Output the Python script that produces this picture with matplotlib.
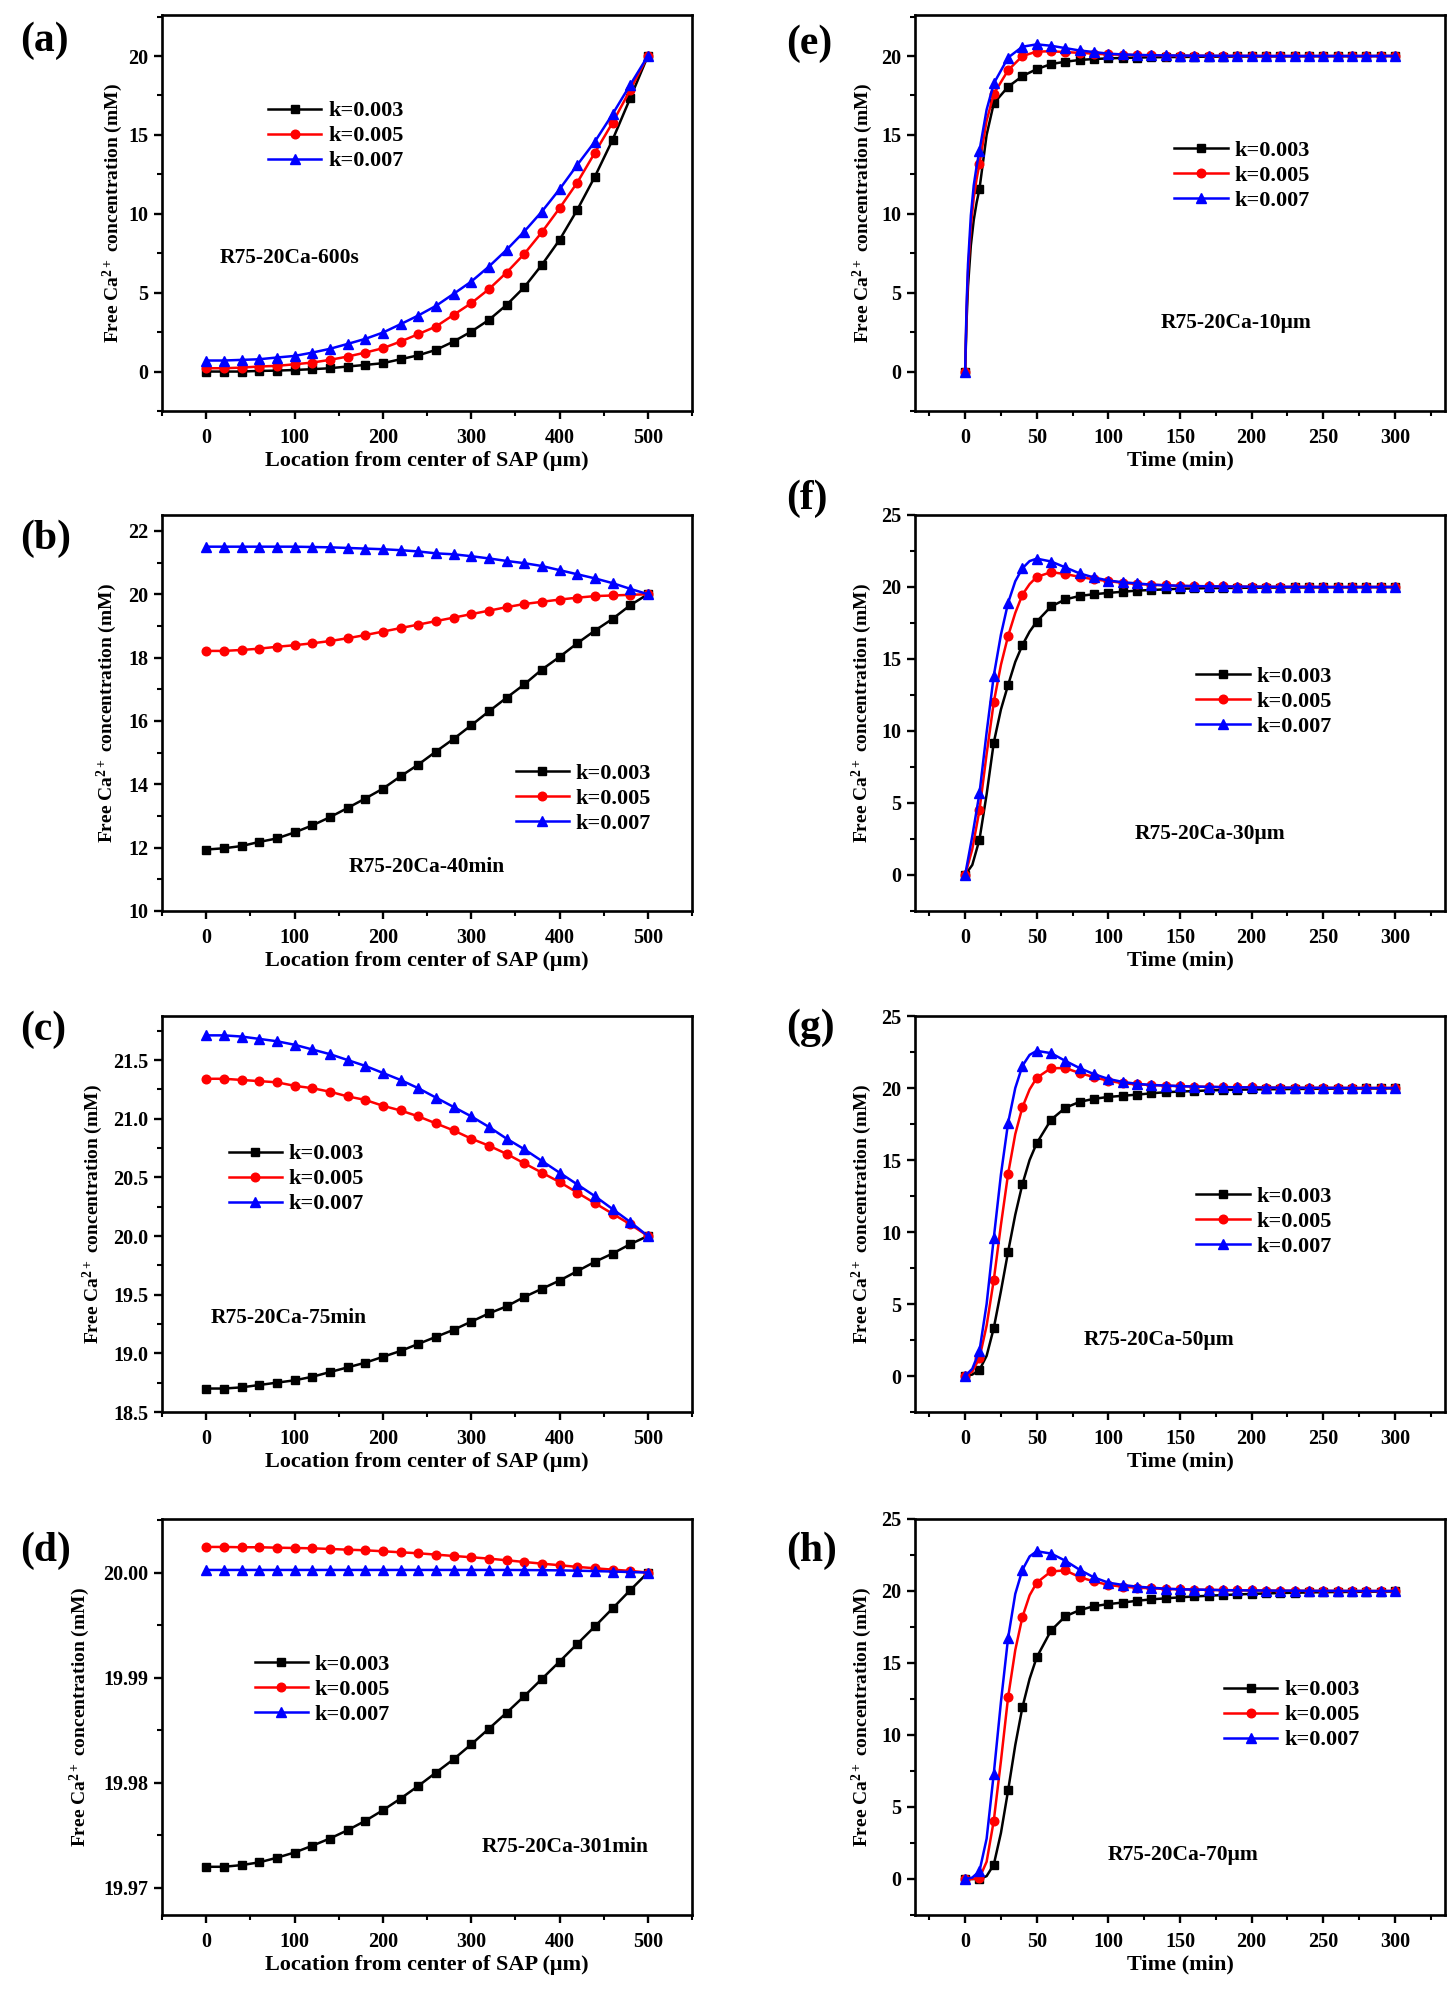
import matplotlib
matplotlib.use("Agg")
import matplotlib.pyplot as plt
from matplotlib.ticker import MultipleLocator, FormatStrFormatter

plt.rcParams["font.family"] = ["Liberation Serif", "DejaVu Serif"]
plt.rcParams["font.weight"] = "bold"
plt.rcParams["mathtext.fontset"] = "custom"
plt.rcParams["mathtext.rm"] = "Liberation Serif:bold"
plt.rcParams["mathtext.it"] = "Liberation Serif:bold"
plt.rcParams["mathtext.bf"] = "Liberation Serif:bold"
plt.rcParams["axes.linewidth"] = 1.9

# ── series styling ────────────────────────────────────────────────────────────
K_LABELS = ["k=0.003", "k=0.005", "k=0.007"]
K_COLORS = ["#000000", "#FF0000", "#0000FF"]
K_MARKERS = ["s", "o", "^"]

YLABEL = "Free Ca$^{2+}$ concentration (mM)"
XLABEL_LOC = "Location from center of SAP (μm)"
XLABEL_TIME = "Time (min)"

# ── spatial profiles (a)-(d): location from SAP centre, μm ────────────────────
location = list(range(0, 520, 20))

a_k003 = [0.0, 0.0, 0.0, 0.04, 0.06, 0.1, 0.15, 0.21, 0.32, 0.42, 0.53, 0.78, 1.03,
          1.37, 1.9, 2.53, 3.27, 4.22, 5.34, 6.76, 8.34, 10.24, 12.35, 14.68, 17.32, 20.0]
a_k005 = [0.21, 0.21, 0.25, 0.32, 0.36, 0.46, 0.57, 0.74, 0.95, 1.2, 1.48, 1.9, 2.37,
          2.85, 3.59, 4.33, 5.22, 6.27, 7.45, 8.83, 10.35, 11.97, 13.87, 15.77, 17.85, 20.0]
a_k007 = [0.7, 0.7, 0.74, 0.78, 0.89, 0.99, 1.2, 1.44, 1.75, 2.07, 2.47, 3.0, 3.55,
          4.16, 4.92, 5.7, 6.65, 7.71, 8.87, 10.14, 11.55, 13.09, 14.57, 16.31, 18.17, 20.0]

b_k003 = [11.94, 11.98, 12.05, 12.18, 12.29, 12.48, 12.7, 12.96, 13.25, 13.55, 13.86, 14.25, 14.62,
          15.03, 15.43, 15.86, 16.3, 16.73, 17.15, 17.62, 18.02, 18.45, 18.85, 19.22, 19.65, 20.0]
b_k005 = [18.21, 18.21, 18.24, 18.28, 18.34, 18.39, 18.45, 18.52, 18.61, 18.71, 18.82, 18.93, 19.04,
          19.15, 19.26, 19.37, 19.48, 19.59, 19.69, 19.76, 19.83, 19.89, 19.94, 19.96, 19.98, 20.0]
b_k007 = [21.5, 21.5, 21.5, 21.5, 21.5, 21.5, 21.49, 21.48, 21.46, 21.44, 21.42, 21.39, 21.35,
          21.29, 21.26, 21.2, 21.13, 21.05, 20.98, 20.89, 20.76, 20.63, 20.5, 20.35, 20.17, 20.0]

c_k003 = [18.7, 18.7, 18.71, 18.73, 18.75, 18.77, 18.8, 18.84, 18.88, 18.92, 18.97, 19.02, 19.08,
          19.14, 19.2, 19.27, 19.34, 19.4, 19.48, 19.55, 19.62, 19.7, 19.78, 19.85, 19.93, 20.0]
c_k005 = [21.34, 21.34, 21.33, 21.32, 21.31, 21.28, 21.26, 21.23, 21.19, 21.16, 21.11, 21.07, 21.02,
          20.96, 20.9, 20.83, 20.77, 20.7, 20.62, 20.54, 20.46, 20.37, 20.28, 20.19, 20.1, 20.0]
c_k007 = [21.71, 21.71, 21.7, 21.68, 21.66, 21.63, 21.59, 21.55, 21.5, 21.45, 21.39, 21.33, 21.26,
          21.18, 21.1, 21.02, 20.93, 20.83, 20.74, 20.64, 20.54, 20.44, 20.34, 20.23, 20.12, 20.0]

d_k003 = [19.97199, 19.97199, 19.97215, 19.97241, 19.97285, 19.97335, 19.97399, 19.97468, 19.97547,
          19.97636, 19.97737, 19.97848, 19.97968, 19.98095, 19.98222, 19.98364, 19.98513, 19.98665,
          19.98823, 19.98987, 19.99152, 19.9932, 19.99487, 19.99658, 19.99832, 20.0]
d_k005 = [20.00244, 20.00244, 20.00241, 20.00241, 20.00237, 20.00234, 20.00231, 20.00225, 20.00218,
          20.00212, 20.00203, 20.00193, 20.00184, 20.00171, 20.00158, 20.00146, 20.00133, 20.00117,
          20.00101, 20.00085, 20.0007, 20.00054, 20.00041, 20.00028, 20.00016, 20.0]
d_k007 = [20.00025, 20.00025, 20.00025, 20.00025, 20.00025, 20.00025, 20.00025, 20.00025, 20.00025,
          20.00025, 20.00025, 20.00025, 20.00025, 20.00025, 20.00025, 20.00025, 20.00025, 20.00025,
          20.00024, 20.00023, 20.00021, 20.00018, 20.00014, 20.0001, 20.00005, 20.0]

# ── time histories (e)-(h): minutes; markers shown every 10 min ───────────────
time_e = [0, 1, 2, 4, 6, 8, 10, 15] + list(range(20, 310, 10))
time_fgh = [0, 5, 10, 15, 20, 25, 30, 35, 40, 45, 50] + list(range(60, 310, 10))

e_k003 = [0.0, 3.2, 5.4, 8.0, 9.6, 10.7, 11.57, 15.0,
          17.0, 18.05, 18.73, 19.17, 19.49, 19.64, 19.75, 19.81, 19.85, 19.88, 19.9, 19.92, 19.93,
          19.94, 19.95, 19.96, 19.96, 19.97, 19.97, 19.98, 19.98, 19.98, 19.99, 19.99, 19.99, 19.99,
          19.99, 20.0, 20.0]
e_k005 = [0.0, 3.8, 6.3, 9.2, 11.0, 12.2, 13.16, 15.9,
          17.6, 19.1, 20.0, 20.28, 20.3, 20.25, 20.2, 20.15, 20.1, 20.08, 20.06, 20.04, 20.03,
          20.02, 20.02, 20.01, 20.01, 20.01, 20.01, 20.0, 20.0, 20.0, 20.0, 20.0, 20.0, 20.0,
          20.0, 20.0, 20.0]
e_k007 = [0.0, 4.2, 6.8, 9.9, 11.8, 13.0, 14.0, 16.6,
          18.26, 19.9, 20.59, 20.74, 20.65, 20.5, 20.35, 20.25, 20.15, 20.1, 20.07, 20.05, 20.04,
          20.03, 20.02, 20.02, 20.01, 20.01, 20.01, 20.0, 20.0, 20.0, 20.0, 20.0, 20.0, 20.0,
          20.0, 20.0, 20.0]

f_k003 = [0.0, 0.7, 2.46, 5.6, 9.2, 11.5, 13.2, 14.8, 15.97, 16.9, 17.6,
          18.65, 19.14, 19.38, 19.5, 19.59, 19.67, 19.75, 19.79, 19.84, 19.88, 19.9, 19.92, 19.93,
          19.94, 19.95, 19.96, 19.96, 19.97, 19.97, 19.98, 19.98, 19.98, 19.99, 19.99, 19.99]
f_k005 = [0.0, 1.8, 4.5, 8.4, 12.0, 14.6, 16.6, 18.2, 19.47, 20.2, 20.7,
          21.03, 20.9, 20.7, 20.53, 20.41, 20.29, 20.2, 20.16, 20.12, 20.08, 20.06, 20.05, 20.04,
          20.03, 20.02, 20.02, 20.01, 20.01, 20.01, 20.0, 20.0, 20.0, 20.0, 20.0, 20.0]
f_k007 = [0.0, 2.7, 5.67, 9.9, 13.84, 16.7, 18.9, 20.4, 21.3, 21.8, 21.97,
          21.77, 21.36, 20.94, 20.66, 20.45, 20.33, 20.25, 20.16, 20.12, 20.08, 20.06, 20.05, 20.04,
          20.03, 20.02, 20.02, 20.01, 20.01, 20.01, 20.0, 20.0, 20.0, 20.0, 20.0, 20.0]

g_k003 = [0.0, 0.1, 0.42, 1.4, 3.33, 5.9, 8.63, 11.2, 13.33, 15.0, 16.17,
          17.8, 18.63, 19.04, 19.25, 19.38, 19.46, 19.54, 19.63, 19.71, 19.75, 19.79, 19.83, 19.86,
          19.88, 19.9, 19.91, 19.92, 19.93, 19.94, 19.95, 19.96, 19.96, 19.97, 19.97, 19.98]
g_k005 = [0.0, 0.3, 1.25, 3.5, 6.67, 10.5, 14.04, 16.8, 18.67, 19.9, 20.71,
          21.38, 21.38, 21.04, 20.75, 20.5, 20.33, 20.25, 20.21, 20.17, 20.13, 20.1, 20.08, 20.06,
          20.05, 20.04, 20.03, 20.02, 20.02, 20.01, 20.01, 20.01, 20.0, 20.0, 20.0, 20.0]
g_k007 = [0.0, 0.5, 1.75, 5.0, 9.58, 14.0, 17.58, 20.0, 21.54, 22.3, 22.58,
          22.42, 21.88, 21.38, 20.96, 20.63, 20.42, 20.29, 20.21, 20.17, 20.13, 20.1, 20.08, 20.06,
          20.05, 20.04, 20.03, 20.02, 20.02, 20.01, 20.01, 20.01, 20.0, 20.0, 20.0, 20.0]

h_k003 = [0.0, 0.0, 0.0, 0.2, 1.0, 3.2, 6.15, 9.3, 11.93, 13.9, 15.4,
          17.26, 18.25, 18.67, 18.95, 19.09, 19.2, 19.32, 19.42, 19.49, 19.56, 19.62, 19.67, 19.72,
          19.76, 19.8, 19.83, 19.86, 19.88, 19.9, 19.92, 19.93, 19.94, 19.95, 19.96, 19.97]
h_k005 = [0.0, 0.0, 0.07, 1.2, 4.05, 8.2, 12.63, 15.9, 18.2, 19.7, 20.58,
          21.36, 21.43, 20.96, 20.66, 20.42, 20.3, 20.23, 20.19, 20.14, 20.12, 20.1, 20.08, 20.06,
          20.05, 20.04, 20.03, 20.02, 20.02, 20.01, 20.01, 20.01, 20.0, 20.0, 20.0, 20.0]
h_k007 = [0.0, 0.1, 0.54, 2.8, 7.32, 12.3, 16.75, 19.8, 21.47, 22.4, 22.76,
          22.6, 22.1, 21.47, 20.94, 20.58, 20.42, 20.3, 20.23, 20.16, 20.12, 20.1, 20.08, 20.06,
          20.05, 20.04, 20.03, 20.02, 20.02, 20.01, 20.01, 20.01, 20.0, 20.0, 20.0, 20.0]

# ── panel definitions ─────────────────────────────────────────────────────────
PANELS = [
    dict(tag="(a)", col=0, row=0, x=location, ys=[a_k003, a_k005, a_k007],
         ylim=(-2.5, 22.6), ymaj=5, yfmt="%d", note="R75-20Ca-600s", note_xy=(0.109, 0.387),
         leg_xy=(0.20, 0.694), ylab_x=-0.092, tag_y=0.935),
    dict(tag="(b)", col=0, row=1, x=location, ys=[b_k003, b_k005, b_k007],
         ylim=(10, 22.5), ymaj=2, yfmt="%d", note="R75-20Ca-40min", note_xy=(0.352, 0.111),
         leg_xy=(0.667, 0.284), ylab_x=-0.105, tag_y=0.94),
    dict(tag="(c)", col=0, row=2, x=location, ys=[c_k003, c_k005, c_k007],
         ylim=(18.5, 21.875), ymaj=0.5, yfmt="%.1f", note="R75-20Ca-75min", note_xy=(0.091, 0.237),
         leg_xy=(0.126, 0.588), ylab_x=-0.13, tag_y=0.965),
    dict(tag="(d)", col=0, row=3, x=location, ys=[d_k003, d_k005, d_k007],
         ylim=(19.9674, 20.0051), ymaj=0.01, yfmt="%.2f", note="R75-20Ca-301min", note_xy=(0.604, 0.172),
         leg_xy=(0.175, 0.570), ylab_x=-0.155, tag_y=0.92),
    dict(tag="(e)", col=1, row=0, x=time_e, ys=[e_k003, e_k005, e_k007],
         ylim=(-2.5, 22.6), ymaj=5, yfmt="%d", note="R75-20Ca-10μm", note_xy=(0.463, 0.221),
         leg_xy=(0.489, 0.595), ylab_x=-0.098, tag_y=0.927),
    dict(tag="(f)", col=1, row=1, x=time_fgh, ys=[f_k003, f_k005, f_k007],
         ylim=(-2.5, 25), ymaj=5, yfmt="%d", note="R75-20Ca-30μm", note_xy=(0.415, 0.195),
         leg_xy=(0.531, 0.528), ylab_x=-0.10, tag_y=1.04),
    dict(tag="(g)", col=1, row=2, x=time_fgh, ys=[g_k003, g_k005, g_k007],
         ylim=(-2.5, 25), ymaj=5, yfmt="%d", note="R75-20Ca-50μm", note_xy=(0.319, 0.183),
         leg_xy=(0.531, 0.480), ylab_x=-0.10, tag_y=0.97),
    dict(tag="(h)", col=1, row=3, x=time_fgh, ys=[h_k003, h_k005, h_k007],
         ylim=(-2.5, 25), ymaj=5, yfmt="%d", note="R75-20Ca-70μm", note_xy=(0.364, 0.152),
         leg_xy=(0.583, 0.505), ylab_x=-0.10, tag_y=0.92),
]

# ── layout (pixel geometry of the original figure) ────────────────────────────
W, H = 1455, 1989
COL_LEFT = [162, 915]
AX_W = 530
ROW_TOP = [15, 515, 1016, 1519]
AX_H = 396

fig = plt.figure(figsize=(W / 100, H / 100), dpi=100)
fig.patch.set_facecolor("white")

for p in PANELS:
    left = COL_LEFT[p["col"]] / W
    bottom = 1 - (ROW_TOP[p["row"]] + AX_H) / H
    ax = fig.add_axes([left, bottom, AX_W / W, AX_H / H])

    is_time = p["col"] == 1
    x = p["x"]
    marks = [i for i, t in enumerate(x) if t % 10 == 0] if is_time else None

    handles = []
    for y, lab, c, m in zip(p["ys"], K_LABELS, K_COLORS, K_MARKERS):
        (h,) = ax.plot(x, y, color=c, marker=m, markersize=7 if m == "^" else 6.2,
                       linewidth=1.8, markevery=marks, label=lab)
        handles.append(h)

    if is_time:
        ax.set_xlim(-35, 335)
        ax.xaxis.set_major_locator(MultipleLocator(50))
        ax.xaxis.set_minor_locator(MultipleLocator(25))
        ax.set_xlabel(XLABEL_TIME, fontsize=16, fontweight="bold")
    else:
        ax.set_xlim(-50, 550)
        ax.xaxis.set_major_locator(MultipleLocator(100))
        ax.xaxis.set_minor_locator(MultipleLocator(50))
        ax.set_xlabel(XLABEL_LOC, fontsize=16, fontweight="bold")
    ax.xaxis.set_label_coords(0.5, -0.1)

    ax.set_ylim(*p["ylim"])
    ax.yaxis.set_major_locator(MultipleLocator(p["ymaj"]))
    ax.yaxis.set_minor_locator(MultipleLocator(p["ymaj"] / 2))
    ax.yaxis.set_major_formatter(FormatStrFormatter(p["yfmt"]))

    ax.tick_params(which="major", direction="out", length=6, width=1.7,
                   labelsize=14.5, pad=4)
    ax.tick_params(which="minor", direction="out", length=3.5, width=1.5)
    ax.tick_params(axis="x", which="major", pad=6)
    for lbl in ax.get_xticklabels() + ax.get_yticklabels():
        lbl.set_fontweight("bold")

    ax.text(p["ylab_x"], 0.5, YLABEL, transform=ax.transAxes, rotation=90,
            ha="center", va="center", fontsize=14, fontweight="bold")

    ax.text(p["note_xy"][0], p["note_xy"][1], p["note"], transform=ax.transAxes,
            ha="left", va="center", fontsize=15.5, fontweight="bold")

    ax.legend(handles=handles, loc="center left", bbox_to_anchor=p["leg_xy"],
              frameon=False, prop={"size": 16, "weight": "bold"}, handlelength=2.4,
              handletextpad=0.3, labelspacing=0.2, borderpad=0, borderaxespad=0)

    tag_x = -0.268 if p["col"] == 0 else -0.244
    ax.text(tag_x, p["tag_y"], p["tag"], transform=ax.transAxes, ha="left", va="center",
            fontsize=30, fontweight="bold")

fig.savefig("out.png", dpi=100, facecolor="white")
